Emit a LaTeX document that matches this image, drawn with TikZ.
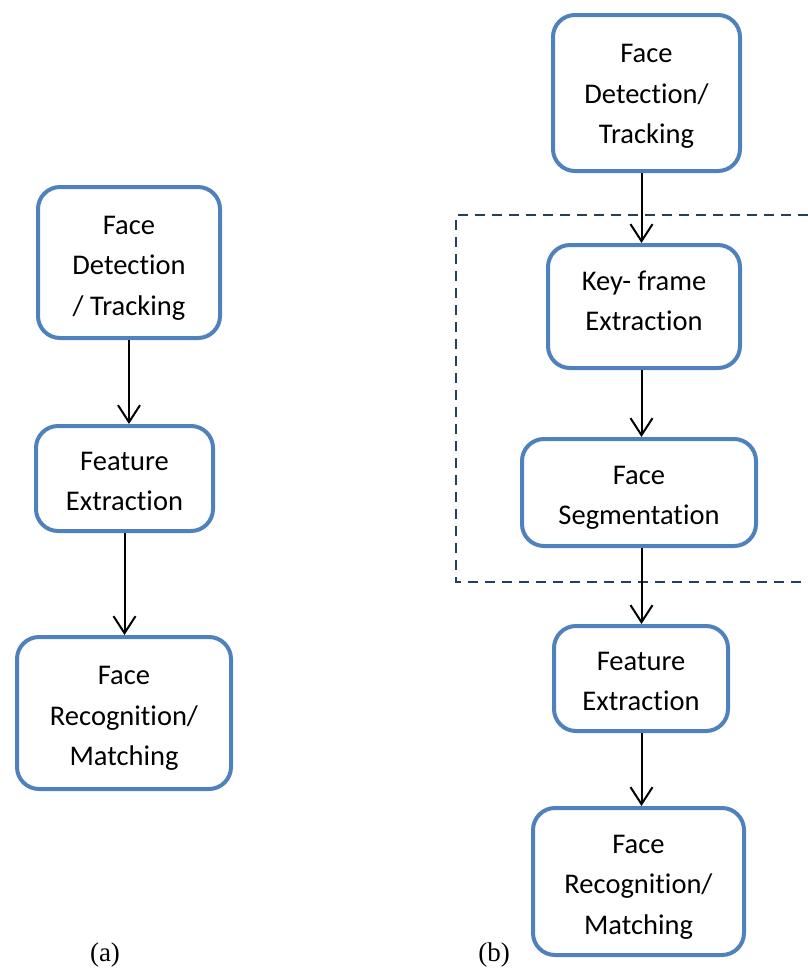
\documentclass[tikz,border=0pt]{standalone}
\usepackage{fontspec}
\setmainfont{Carlito}[Ligatures=NoCommon]
\newfontfamily\capfont{Liberation Serif}
\usepackage{tikz}
\usetikzlibrary{arrows.meta, positioning, calc}
\usepackage{xcolor}
\definecolor{boxblue}{HTML}{4F81BD}
\definecolor{framenavy}{HTML}{243F60}
\newcommand{\stagetext}[2][-4pt]{\raisebox{#1}[\height][\depth]{\begin{tabular}{@{}c@{}}#2\end{tabular}}}

\begin{document}
\begin{tikzpicture}[
    x=1pt, y=-1pt,
    stage/.style = {rectangle, draw=boxblue, line width=4pt, fill=white, rounded corners=22pt,
                    inner sep=0pt, font=\fontsize{28.5}{40.5}\selectfont},
    arrow/.style = {-{Straight Barb[length=17pt, width=22pt, line width=2pt]}, line width=2pt},
    frame/.style = {draw=framenavy, line width=2pt, dash pattern=on 10pt off 7pt},
    caption/.style = {font=\capfont\fontsize{27}{30}\selectfont}
]
\useasboundingbox (0,0) rectangle (808,969);

% (a) plain pipeline
\node[stage, minimum width=182pt, minimum height=151pt] (A1) at (129,262.5) {\stagetext{Face\\Detection\\/ Tracking}};
\node[stage, minimum width=177pt, minimum height=105pt] (A2) at (124.5,478.5) {\stagetext{Feature\\Extraction}};
\node[stage, minimum width=214pt, minimum height=152pt] (A3) at (124,713) {\stagetext{Face\\Recognition/\\Matching}};

% (b) pipeline with key-frame stage
\node[stage, minimum width=187pt, minimum height=156pt] (B1) at (646.5,93) {\stagetext[-2pt]{Face\\Detection/\\Tracking}};
\node[stage, minimum width=192pt, minimum height=123pt] (B2) at (644,306.5) {\stagetext[4pt]{Key- frame\\Extraction}};
\node[stage, minimum width=234pt, minimum height=107pt] (B3) at (639,492.5) {\stagetext{Face\\Segmentation}};
\node[stage, minimum width=174pt, minimum height=105pt] (B4) at (641,678.5) {\stagetext{Feature\\Extraction}};
\node[stage, minimum width=211pt, minimum height=147pt] (B5) at (638.5,881.5) {\stagetext{Face\\Recognition/\\Matching}};

\node[caption] (capA) at (105,955) {(a)};
\node[caption] (capB) at (494,955) {(b)};

% dashed frame, open on the right
\coordinate (fr-tr) at (808,215);
\coordinate (fr-tl) at (456,215);
\coordinate (fr-bl) at (456,582);
\coordinate (fr-br) at (808,582);
\draw[frame] (fr-tr) -- (fr-tl) -- (fr-bl) -- (fr-br);

% Edges
\coordinate (spine) at (641.5,0);
\draw[arrow] (A1.south) -- (A1.south |- A2.north);
\draw[arrow] (A2.south) -- (A2.south |- A3.north);

\draw[arrow] (B1.south -| spine) -- (B2.north -| spine);
\draw[arrow] (B2.south -| spine) -- (B3.north -| spine);
\draw[arrow] (B3.south -| spine) -- (B4.north -| spine);
\draw[arrow] (B4.south -| spine) -- (B5.north -| spine);

\end{tikzpicture}
\end{document}
